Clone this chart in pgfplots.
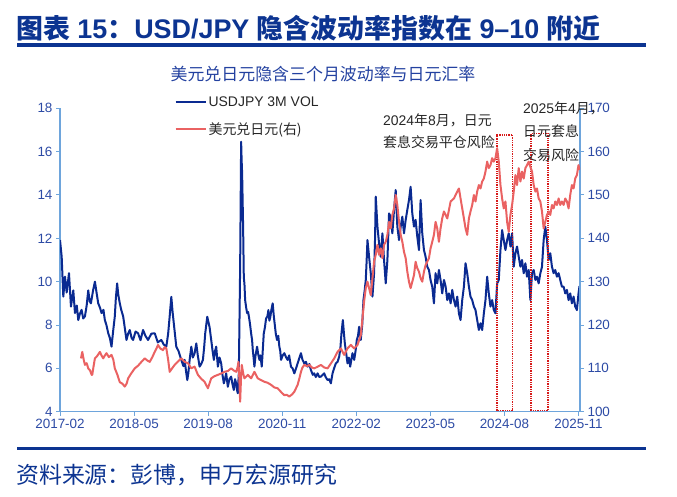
\documentclass[border=0pt]{standalone}
\usepackage{pgfplots}
\pgfplotsset{compat=1.18}
\usepackage{fontspec}
\setmainfont{Liberation Sans}
\newfontfamily\cjk{Noto Sans CJK SC}
\definecolor{volblue}{RGB}{10,42,145}
\definecolor{fxred}{RGB}{234,98,98}
\definecolor{titleblue}{RGB}{12,52,145}
\definecolor{subblue}{RGB}{35,65,160}
\definecolor{tickblue}{RGB}{45,75,165}
\definecolor{axisblue}{RGB}{110,165,220}
\definecolor{txtgray}{RGB}{38,38,38}
\definecolor{boxred}{RGB}{215,25,25}
\begin{document}
\begin{tikzpicture}
\path[use as bounding box] (0bp,0bp) rectangle (677bp,497bp);
% title
\node[anchor=west, text=titleblue, font=\fontsize{27}{32}\selectfont\bfseries, inner sep=0pt] at (16bp,469bp) {{\cjk 图表} 15{\cjk ：}USD/JPY {\cjk 隐含波动率指数在} 9–10 {\cjk 附近}};
\fill[titleblue] (17bp,450.3bp) rectangle (646bp,453.6bp);
% subtitle
\node[text=subblue, font=\cjk\fontsize{17}{20}\selectfont, inner sep=0pt] at (323bp,423bp) {美元兑日元隐含三个月波动率与日元汇率};
% bottom rule and source
\fill[titleblue] (17bp,47bp) rectangle (646bp,50.3bp);
\node[anchor=west, text=titleblue, font=\cjk\fontsize{23}{26}\selectfont, inner sep=0pt] at (16bp,22bp) {资料来源：彭博，申万宏源研究};

\begin{axis}[at={(60bp,85.3bp)}, anchor=south west, scale only axis,
  width=520bp, height=303.4bp,
  xmin=0, xmax=105.3, ymin=4, ymax=18,
  ytick={4,6,...,18},
  xtick={0,15,...,105},
  xticklabels={2017-02,2018-05,2019-08,2020-11,2022-02,2023-05,2024-08,2025-11},
  axis x line*=bottom, axis y line*=left,
  axis line style={axisblue, line width=1.2bp},
  tick style={axisblue, line width=1bp},
  major tick length=4bp, tick align=outside,
  tick label style={text=tickblue, font=\fontsize{13.5}{16}\selectfont},
  /pgf/number format/assume math mode=true,
  legend style={at={(0.22,1.046)}, anchor=north west, draw=none, fill=none,
    font=\fontsize{14}{16}\selectfont, text=txtgray, row sep=11bp, inner sep=0pt},
  legend cell align=left,
  legend image code/.code={\draw[#1] (0bp,0bp) -- (30bp,0bp);},
]
\addplot[volblue, line width=2bp, line join=round] coordinates {
(0,11.92)(0.34,11.15)(0.67,9.31)(1.01,10.23)(1.35,9.5)(1.82,10.39)(2.22,8.85)(2.69,9.6)(3.03,8.55)(3.4,8.9)(3.7,8.23)(4.0,8.5)(4.37,8.7)(4.7,8.3)(5.05,8.4)(5.4,8.9)(5.72,9.6)(6.0,9.1)(6.26,9.0)(6.7,9.6)(7.07,10.0)(7.4,9.5)(7.74,9.0)(8.1,8.8)(8.41,8.55)(8.8,8.7)(9.08,8.23)(9.4,8.0)(9.76,7.63)(10.1,7.4)(10.43,7.0)(10.8,7.8)(11.1,8.4)(11.3,9.2)(11.57,9.92)(11.8,9.4)(12.11,9.0)(12.4,8.7)(12.79,8.4)(13.1,7.9)(13.46,7.31)(13.8,7.6)(14.13,7.77)(14.5,7.4)(14.8,7.31)(15.3,7.7)(15.81,7.62)(16.3,7.3)(16.82,7.77)(17.3,7.5)(17.83,7.31)(18.5,7.6)(19.18,7.62)(19.8,7.2)(20.52,7.31)(21.0,7.1)(21.53,7.0)(21.9,7.6)(22.21,8.4)(22.54,9.3)(22.8,8.6)(23.08,8.0)(23.55,7.0)(24.0,6.8)(24.56,6.39)(25.0,6.1)(25.24,6.39)(25.57,5.78)(25.78,5.46)(26.0,5.8)(26.25,6.39)(26.59,7.0)(26.9,6.5)(27.26,6.7)(27.6,7.15)(27.9,6.6)(28.27,6.08)(28.6,6.2)(28.94,6.39)(29.2,7.0)(29.41,7.62)(29.82,8.38)(30.29,7.9)(30.62,7.31)(30.9,6.8)(31.16,6.39)(31.4,6.8)(31.63,7.0)(31.97,6.08)(32.3,6.5)(32.64,6.23)(32.9,5.7)(33.18,5.31)(33.4,5.5)(33.65,5.77)(33.99,5.15)(34.3,5.5)(34.66,5.62)(34.9,5.3)(35.2,5.0)(35.45,5.5)(35.67,5.31)(35.85,5.0)(36.01,4.85)(36.21,5.77)(36.48,10.69)(36.68,16.46)(36.78,15.6)(36.88,15.0)(37.08,12.54)(37.22,10.2)(37.35,9.9)(37.49,9.15)(37.7,8.8)(37.89,8.55)(38.1,8.6)(38.36,8.23)(38.5,8.0)(38.7,7.62)(38.9,7.3)(39.04,6.85)(39.2,6.5)(39.37,6.08)(39.6,6.6)(39.91,7.0)(40.1,6.7)(40.38,6.39)(40.6,6.6)(40.85,6.08)(41.0,6.6)(41.26,7.6)(41.5,7.9)(41.73,8.3)(42.0,8.4)(42.2,8.69)(42.4,8.2)(42.6,8.38)(42.8,8.7)(43.07,9.0)(43.3,8.4)(43.54,7.92)(43.7,7.6)(43.95,7.31)(44.2,7.5)(44.42,7.0)(44.6,6.8)(44.76,6.39)(45.1,6.6)(45.43,6.7)(45.8,6.5)(46.1,6.39)(46.4,6.6)(46.77,6.08)(47.1,6.0)(47.45,5.77)(47.8,6.0)(48.12,6.23)(48.5,6.5)(48.79,6.7)(49.1,6.4)(49.47,6.23)(49.8,6.3)(50.14,6.08)(50.5,6.2)(50.81,5.92)(51.2,5.7)(51.48,5.77)(51.8,5.6)(52.16,5.77)(52.5,5.6)(52.84,5.62)(53.2,5.7)(53.5,5.77)(53.8,5.6)(54.18,5.46)(54.5,5.5)(54.85,5.31)(55.19,5.77)(55.5,6.0)(55.86,6.23)(56.2,6.3)(56.54,6.54)(56.8,7.0)(57.0,7.62)(57.28,8.23)(57.5,7.6)(57.68,7.15)(57.95,6.7)(58.22,6.23)(58.5,6.5)(58.76,6.08)(59.0,6.4)(59.23,6.7)(59.57,6.39)(59.85,6.8)(60.1,7.31)(60.35,7.5)(60.57,7.92)(60.9,7.31)(61.2,8.0)(61.45,9.15)(61.7,9.6)(61.92,10.08)(62.1,11.0)(62.26,11.92)(62.59,11.15)(62.93,10.39)(63.27,9.31)(63.6,10.39)(63.8,12.0)(63.94,13.92)(64.28,12.54)(64.61,11.77)(64.95,11.15)(65.29,12.23)(65.62,11.0)(65.96,9.92)(66.3,11.0)(66.63,13.15)(66.97,13.0)(67.3,12.23)(67.64,13.31)(67.98,14.23)(68.31,12.54)(68.65,11.92)(68.99,12.54)(69.32,13.0)(69.66,12.23)(70.0,12.85)(70.33,13.31)(70.67,13.77)(71.0,14.38)(71.34,13.15)(71.68,12.54)(72.01,12.85)(72.35,12.08)(72.69,11.46)(73.02,13.77)(73.36,12.23)(73.7,11.46)(74.03,11.15)(74.37,10.69)(74.71,10.54)(75.04,10.08)(75.38,9.77)(75.72,9.0)(76.05,10.39)(76.39,9.92)(76.73,10.54)(77.06,10.08)(77.4,9.46)(77.75,10.08)(78.09,9.77)(78.42,9.15)(78.76,9.46)(79.1,9.0)(79.43,9.62)(79.77,9.15)(80.1,8.85)(80.44,9.31)(80.78,8.54)(81.11,8.23)(81.45,9.15)(81.79,9.77)(82.12,10.85)(82.46,10.39)(82.8,9.77)(83.13,9.31)(83.47,9.15)(83.81,8.85)(84.14,8.69)(84.48,8.23)(84.82,7.77)(85.15,8.08)(85.49,7.77)(85.83,8.54)(86.16,9.15)(86.5,10.23)(86.83,9.46)(87.17,8.85)(87.51,9.15)(87.84,8.69)(88.18,8.54)(88.52,9.92)(88.85,10.08)(89.19,11.46)(89.53,12.38)(89.86,11.92)(90.2,11.46)(90.54,11.92)(90.87,12.23)(91.21,11.62)(91.55,12.23)(91.88,10.69)(92.22,11.31)(92.55,11.62)(92.89,11.15)(93.23,10.69)(93.56,11.0)(93.9,10.39)(94.24,10.85)(94.57,10.23)(94.91,10.54)(95.25,9.15)(95.58,10.39)(95.92,10.54)(96.26,10.08)(96.59,10.23)(96.93,9.92)(97.27,10.39)(97.6,10.69)(97.94,11.92)(98.27,12.54)(98.61,11.92)(98.95,11.0)(99.28,11.31)(99.62,10.69)(99.96,10.39)(100.29,10.54)(100.63,10.23)(100.97,10.39)(101.3,10.08)(101.64,9.77)(101.98,9.77)(102.31,9.46)(102.65,9.62)(102.99,9.15)(103.32,9.46)(103.66,9.0)(104.0,9.31)(104.33,8.85)(104.67,8.69)(105.0,9.46)(105.2,9.8)
};
\addlegendentry{USDJPY 3M VOL}
\addlegendimage{fxred, line width=2bp}
\addlegendentry{{\cjk 美元兑日元(右)}}
\draw[boxred, densely dotted, line width=1.3bp] (axis cs:88.5,4.05) rectangle (axis cs:91.7,16.77);
\draw[boxred, densely dotted, line width=1.3bp] (axis cs:95.4,4.05) rectangle (axis cs:98.8,16.85);
\end{axis}

\begin{axis}[at={(60bp,85.3bp)}, anchor=south west, scale only axis,
  width=520bp, height=303.4bp,
  xmin=0, xmax=105.3, ymin=100, ymax=170,
  ytick={100,110,...,170},
  axis y line*=right, axis x line=none,
  axis line style={axisblue, line width=1.2bp},
  tick style={axisblue, line width=1bp},
  major tick length=4bp, tick align=outside,
  tick label style={text=tickblue, font=\fontsize{13.5}{16}\selectfont},
  /pgf/number format/assume math mode=true,
]
\addplot[fxred, line width=2bp, line join=round] coordinates {
(4.24,112.3)(4.51,113.8)(4.8,112.0)(5.05,110.8)(5.4,111.2)(5.72,110.0)(6.1,109.5)(6.4,108.5)(6.53,108.5)(6.8,110.5)(7.07,112.3)(7.5,112.8)(8.08,113.8)(8.4,113.0)(8.75,112.3)(9.1,113.0)(9.42,113.5)(9.9,112.6)(10.43,113.1)(10.8,112.0)(11.1,110.0)(11.6,108.6)(12.11,106.8)(12.6,106.5)(13.12,105.8)(13.5,106.5)(13.8,107.7)(14.4,108.8)(15.14,110.0)(15.8,110.6)(16.49,111.5)(17.16,112.3)(17.7,111.8)(18.17,111.5)(18.7,112.6)(19.18,113.8)(19.5,114.5)(19.85,115.4)(20.3,114.6)(20.86,114.2)(21.2,114.9)(21.53,114.6)(21.9,112.0)(22.21,109.2)(22.7,110.0)(23.22,110.8)(23.9,111.6)(24.56,112.3)(25.24,111.5)(25.91,111.2)(26.59,110.0)(27.25,110.4)(27.93,108.5)(28.6,107.6)(29.28,106.9)(29.95,105.4)(30.62,107.7)(31.3,108.2)(31.97,108.5)(32.6,108.8)(33.32,109.2)(34.0,109.4)(34.66,110.0)(35.2,109.5)(35.67,109.2)(35.95,110.2)(36.14,111.5)(36.3,108.0)(36.48,102.3)(36.65,107.5)(36.81,110.8)(37.1,108.8)(37.35,107.7)(38.03,108.5)(38.7,107.7)(39.37,109.2)(40.04,107.7)(40.7,107.3)(41.39,106.9)(42.0,106.7)(42.74,106.2)(43.4,105.6)(44.08,105.4)(44.8,104.5)(45.43,103.8)(45.9,103.9)(46.44,103.5)(47.0,104.0)(47.45,104.6)(48.12,106.2)(48.5,107.8)(48.79,109.2)(49.1,110.2)(49.47,110.8)(50.0,110.5)(50.48,110.8)(51.0,110.2)(51.49,110.0)(52.2,110.4)(52.84,110.8)(53.5,110.2)(54.18,110.0)(54.9,111.2)(55.53,112.3)(56.2,113.8)(56.87,114.6)(57.55,113.1)(58.22,114.6)(58.89,115.4)(59.57,114.6)(60.24,115.4)(60.91,117.7)(61.25,121.5)(61.58,125.4)(61.92,128.5)(62.26,130.0)(62.59,128.5)(62.93,126.9)(63.27,130.8)(63.6,134.6)(63.94,136.2)(64.28,138.5)(64.61,136.2)(64.95,137.7)(65.29,135.4)(65.62,138.5)(65.96,139.2)(66.3,140.8)(66.63,143.8)(66.97,142.3)(67.3,145.4)(67.64,146.9)(67.98,150.0)(68.31,147.7)(68.65,143.8)(68.99,140.8)(69.32,139.2)(69.66,136.9)(70.0,135.4)(70.33,132.3)(70.67,130.0)(71.0,128.5)(71.34,130.0)(71.68,131.5)(72.01,134.6)(72.35,133.1)(72.69,132.3)(73.02,130.8)(73.36,130.0)(73.7,132.3)(74.03,133.8)(74.37,134.6)(74.71,135.4)(75.04,137.7)(75.38,139.2)(75.72,140.8)(76.05,143.8)(76.39,142.3)(76.73,139.2)(77.06,142.3)(77.4,144.6)(77.75,146.2)(78.42,144.6)(79.1,148.5)(79.77,149.2)(80.44,150.8)(80.78,151.5)(81.11,149.2)(81.45,146.9)(81.79,144.6)(82.12,142.3)(82.46,140.8)(82.8,144.6)(83.13,146.2)(83.47,147.7)(83.81,150.0)(84.14,148.5)(84.48,150.8)(84.82,152.3)(85.15,151.5)(85.49,153.1)(85.83,153.8)(86.16,155.4)(86.5,157.7)(86.83,156.2)(87.17,156.9)(87.51,158.5)(87.84,157.7)(88.18,158.5)(88.52,160.8)(88.85,157.7)(89.19,152.3)(89.53,149.2)(89.86,146.9)(90.2,148.5)(90.54,143.8)(90.87,141.5)(91.21,145.4)(91.55,147.7)(91.88,150.8)(92.22,154.6)(92.55,152.3)(92.89,156.2)(93.23,153.1)(93.56,155.4)(93.9,153.8)(94.24,156.2)(94.57,156.9)(94.91,157.7)(95.25,156.5)(95.58,155.4)(95.92,152.3)(96.26,150.8)(96.59,151.5)(96.93,149.2)(97.27,148.5)(97.6,146.2)(97.94,142.3)(98.27,143.8)(98.61,145.4)(98.95,146.2)(99.28,145.4)(99.62,147.7)(99.96,146.9)(100.29,148.5)(100.63,147.7)(100.97,149.2)(101.3,147.7)(101.64,148.5)(101.98,147.7)(102.31,149.2)(102.65,148.5)(102.99,146.9)(103.32,150.0)(103.66,152.3)(104.0,151.5)(104.33,153.8)(104.67,154.6)(105.0,156.9)(105.2,155.8)
};
\end{axis}
% annotations
\begin{scope}[every node/.style={anchor=west, inner sep=0pt, text=txtgray, font=\fontsize{14}{16}\selectfont}]
\node at (383bp,377bp) {2024{\cjk 年}8{\cjk 月，日元}};
\node at (383bp,355bp) {\cjk 套息交易平仓风险};
\node at (523bp,389bp) {2025{\cjk 年}4{\cjk 月，}};
\node at (523bp,365.5bp) {\cjk 日元套息};
\node at (523bp,342bp) {\cjk 交易风险};
\end{scope}
\end{tikzpicture}
\end{document}
